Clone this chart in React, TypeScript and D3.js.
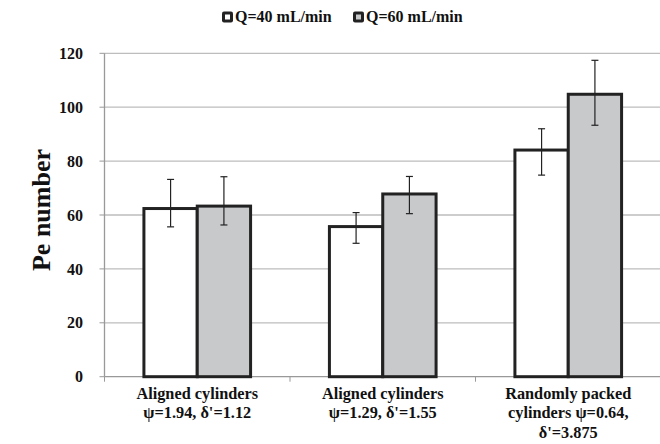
import React from "react";
import * as d3 from "d3";

const categories: string[][] = [
  ["Aligned cylinders", "ψ=1.94, δ'=1.12"],
  ["Aligned cylinders", "ψ=1.29, δ'=1.55"],
  ["Randomly packed", "cylinders ψ=0.64,", "δ'=3.875"],
];
const seriesNames = ["Q=40 mL/min", "Q=60 mL/min"];
const seriesColors = ["#ffffff", "#c8c9cb"];
const q40 = [62.4, 55.7, 84.1];
const q60 = [63.3, 67.8, 104.8];
const q40Upper = [73.2, 60.9, 92.0];
const q40Lower = [55.6, 49.5, 74.8];
const q60Upper = [74.2, 74.3, 117.4];
const q60Lower = [56.3, 60.5, 93.3];
const yTicks = [0, 20, 40, 60, 80, 100, 120];

const W = 660, H = 444;
const left = 104.5, right = 661, top = 53.3, bottom = 376.7;
const font = "'Liberation Serif', 'Times New Roman', serif";

export default function App() {
  const y = d3.scaleLinear().domain([0, 120]).range([bottom, top]);
  const x = d3.scaleBand<number>().domain([0, 1, 2]).range([left, right]).paddingInner(0.425).paddingOuter(0.2125);
  const xs = d3.scaleBand<number>().domain([0, 1]).range([0, x.bandwidth()]);
  const series = [
    { vals: q40, up: q40Upper, lo: q40Lower },
    { vals: q60, up: q60Upper, lo: q60Lower },
  ];
  const catStep = (right - left) / 3;
  return (
    <svg width={W} height={H} style={{ position: "absolute", left: 0, top: 0, background: "#fff", fontFamily: font }}>
      {yTicks.map((t) => (
        <g key={t}>
          {t > 0 && <line x1={left} x2={right} y1={y(t)} y2={y(t)} stroke="#bdbdbd" strokeWidth={1.3} />}
          <line x1={left - 5} x2={left} y1={y(t)} y2={y(t)} stroke="#999" strokeWidth={1} />
          <text x={83} y={y(t)} dy="0.35em" textAnchor="end" fontSize={16} fontWeight="bold" fill="#111">{t}</text>
        </g>
      ))}
      <line x1={left} x2={left} y1={top} y2={bottom} stroke="#999" strokeWidth={1.3} />
      <line x1={left} x2={right} y1={bottom} y2={bottom} stroke="#999" strokeWidth={1.3} />
      {[0, 1, 2, 3].map((i) => (
        <line key={i} x1={left + i * catStep} x2={left + i * catStep} y1={bottom} y2={bottom + 5} stroke="#999" strokeWidth={1} />
      ))}
      {series.map((s, si) =>
        s.vals.map((v, ci) => {
          const bx = (x(ci) as number) + (xs(si) as number);
          const bw = xs.bandwidth();
          return (
            <rect key={`${si}-${ci}`} x={bx} y={y(v)} width={bw} height={bottom - y(v)} fill={seriesColors[si]} stroke="#222" strokeWidth={3} />
          );
        })
      )}
      {series.map((s, si) =>
        s.vals.map((v, ci) => {
          const cx = (x(ci) as number) + (xs(si) as number) + xs.bandwidth() / 2;
          return (
            <g key={`e${si}-${ci}`} stroke="#222" strokeWidth={1.2}>
              <line x1={cx} x2={cx} y1={y(s.up[ci])} y2={y(s.lo[ci])} />
              <line x1={cx - 3.5} x2={cx + 3.5} y1={y(s.up[ci])} y2={y(s.up[ci])} />
              <line x1={cx - 3.5} x2={cx + 3.5} y1={y(s.lo[ci])} y2={y(s.lo[ci])} />
            </g>
          );
        })
      )}
      {categories.map((lines, ci) => {
        const cx = (x(ci) as number) + x.bandwidth() / 2;
        return (
          <text key={ci} x={cx} textAnchor="middle" fontSize={16.3} fontWeight="bold" fill="#111">
            {lines.map((l, li) => (
              <tspan key={li} x={cx} y={399 + li * 19.3}>{l}</tspan>
            ))}
          </text>
        );
      })}
      <text transform={`translate(50,210) rotate(-90)`} textAnchor="middle" fontSize={26} fontWeight="bold" fill="#111">Pe number</text>
      {seriesNames.map((n, i) => {
        const lx = i === 0 ? 222 : 353;
        return (
          <g key={n}>
            <rect x={lx} y={11.5} width={11} height={11} rx={2} fill="#222" />
            <rect x={lx + 3} y={14.5} width={5} height={5} fill={seriesColors[i]} />
            <text x={lx + 13} y={22} fontSize={16} fontWeight="bold" fill="#111">{n}</text>
          </g>
        );
      })}
    </svg>
  );
}
